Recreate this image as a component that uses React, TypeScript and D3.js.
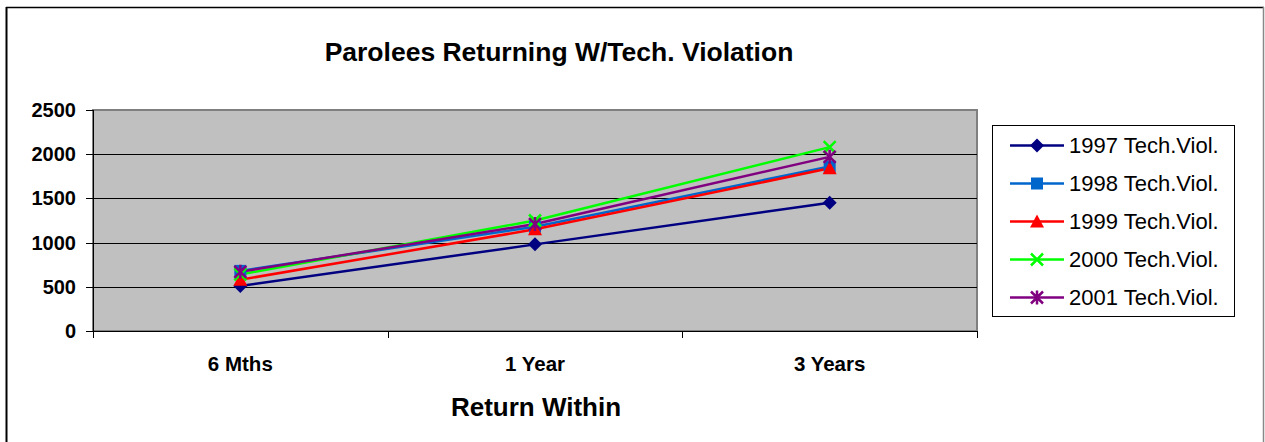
import React from 'react';
import * as d3 from 'd3';

const categories = ['6 Mths', '1 Year', '3 Years'];
const seriesNames = ['1997 Tech.Viol.', '1998 Tech.Viol.', '1999 Tech.Viol.', '2000 Tech.Viol.', '2001 Tech.Viol.'];
const v1997 = [510, 980, 1450];
const v1998 = [680, 1180, 1860];
const v1999 = [580, 1150, 1840];
const v2000 = [640, 1250, 2080];
const v2001 = [670, 1210, 1970];
const yTicks = [0, 500, 1000, 1500, 2000, 2500];

const colors = ['#000080', '#0066cc', '#ff0000', '#00ff00', '#800080'];
const markers = ['diamond', 'square', 'triangle', 'x', 'star'];

const W = 1265;
const H = 442;
const font = 'Arial, "Liberation Sans", Helvetica, sans-serif';

// plot area
const left = 93, right = 977, top = 110, bottom = 331;

function Marker({kind, x, y, color}: {kind: string; x: number; y: number; color: string}) {
    if (kind === 'diamond') {
        const s = 7;
        return <path d={`M${x},${y - s}L${x + s},${y}L${x},${y + s}L${x - s},${y}Z`} fill={color}/>;
    }
    if (kind === 'square') {
        return <rect x={x - 6} y={y - 6} width={12} height={12} fill={color}/>;
    }
    if (kind === 'triangle') {
        return <path d={`M${x},${y - 7}L${x + 7},${y + 6}L${x - 7},${y + 6}Z`} fill={color}/>;
    }
    if (kind === 'x') {
        const s = 6;
        return <path d={`M${x - s},${y - s}L${x + s},${y + s}M${x + s},${y - s}L${x - s},${y + s}`}
                     stroke={color} strokeWidth={2.5}/>;
    }
    const s = 6;
    return <path d={`M${x - s},${y - s}L${x + s},${y + s}M${x + s},${y - s}L${x - s},${y + s}M${x},${y - s - 1}L${x},${y + s + 1}`}
                 stroke={color} strokeWidth={2.5}/>;
}

export default function App() {
    const series = [v1997, v1998, v1999, v2000, v2001];

    const x = d3.scaleBand<string>().domain(categories).range([left, right]);
    const y = d3.scaleLinear().domain([0, 2500]).range([bottom, top]);
    const cx = (c: string) => (x(c) ?? 0) + x.bandwidth() / 2;

    const line = d3.line<number>()
        .x((_, i) => cx(categories[i]))
        .y(d => y(d));

    const bandEdges = [...categories.map(c => x(c) ?? 0), right];

    return (
        <svg width={W} height={H} style={{position: 'absolute', left: 0, top: 0, background: '#fff'}}
             fontFamily={font}>
            {/* outer frame */}
            <line x1={6.5} y1={7} x2={6.5} y2={H} stroke="#000" strokeWidth={2}/>
            <line x1={6} y1={7.5} x2={1264} y2={7.5} stroke="#000" strokeWidth={1.5}/>
            <line x1={1263.5} y1={7} x2={1263.5} y2={H} stroke="#888" strokeWidth={1.5}/>

            <text x={559} y={61} textAnchor="middle" fontSize={26.5} fontWeight="bold">
                Parolees Returning W/Tech. Violation
            </text>

            {/* plot background */}
            <rect x={left} y={top} width={right - left} height={bottom - top} fill="#c0c0c0"
                  stroke="#808080" strokeWidth={2}/>

            {yTicks.slice(1, -1).map(t => (
                <line key={t} x1={left} x2={right} y1={Math.round(y(t)) + 0.5} y2={Math.round(y(t)) + 0.5}
                      stroke="#000" strokeWidth={1}/>
            ))}

            {/* axes */}
            <line x1={left + 0.5} x2={left + 0.5} y1={top} y2={bottom + 7} stroke="#000"/>
            <line x1={left - 7} x2={right} y1={bottom + 0.5} y2={bottom + 0.5} stroke="#000"/>
            {yTicks.map(t => (
                <g key={t}>
                    <line x1={left - 7} x2={left} y1={Math.round(y(t)) + 0.5} y2={Math.round(y(t)) + 0.5} stroke="#000"/>
                    <text x={left - 17} y={y(t)} dy="0.35em" textAnchor="end" fontSize={20} fontWeight="bold">{t}</text>
                </g>
            ))}
            {bandEdges.map((e, i) => (
                <line key={i} x1={Math.round(e) + 0.5} x2={Math.round(e) + 0.5} y1={bottom} y2={bottom + 7} stroke="#000"/>
            ))}
            {categories.map(c => (
                <text key={c} x={cx(c)} y={371} textAnchor="middle" fontSize={20.5} fontWeight="bold">{c}</text>
            ))}
            <text x={536} y={416} textAnchor="middle" fontSize={26} fontWeight="bold">Return Within</text>

            {/* series */}
            {series.map((s, i) => (
                <path key={i} d={line(s)!} fill="none" stroke={colors[i]} strokeWidth={2.5}/>
            ))}
            {series.map((s, i) => (
                <g key={i}>
                    {s.map((v, j) => (
                        <Marker key={j} kind={markers[i]} x={cx(categories[j])} y={y(v)} color={colors[i]}/>
                    ))}
                </g>
            ))}

            {/* legend */}
            <rect x={992.5} y={125.5} width={242} height={191} fill="#fff" stroke="#000" strokeWidth={1}/>
            {seriesNames.map((n, i) => {
                const ly = 145.5 + i * 38;
                return (
                    <g key={n}>
                        <line x1={1010} x2={1064} y1={ly} y2={ly} stroke={colors[i]} strokeWidth={2.5}/>
                        <Marker kind={markers[i]} x={1037} y={ly} color={colors[i]}/>
                        <text x={1069} y={ly} dy="0.35em" fontSize={22}>{n}</text>
                    </g>
                );
            })}
        </svg>
    );
}
